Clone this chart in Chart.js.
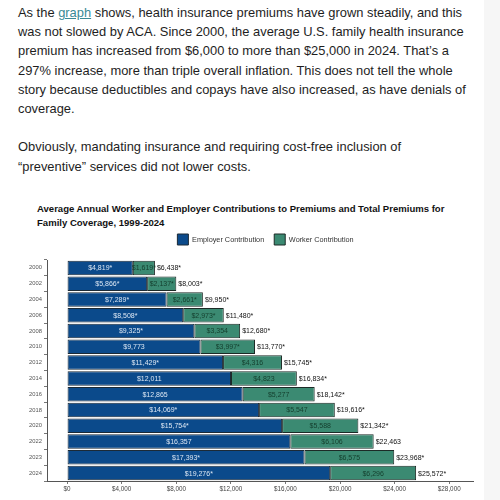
<!DOCTYPE html>
<html>
<head>
<meta charset="utf-8">
<script src="https://cdn.jsdelivr.net/npm/chart.js@4.4.1/dist/chart.umd.min.js"></script>
<style>
  html, body { margin: 0; padding: 0; width: 500px; height: 500px; overflow: hidden; background: #fff; }
  .edge { position: absolute; left: 484px; top: 0; width: 16px; height: 500px; background: #f6f6f6; }
  .text { position: absolute; left: 18px; top: 3px; font-family: "Liberation Sans", Arial, sans-serif; font-size: 12.9px; line-height: 19.2px; color: #1e1e1e; white-space: nowrap; }
  .text p { margin: 0 0 19.2px 0; }
  .text a { color: #3a8a96; text-decoration: underline; }
  .title { position: absolute; left: 37px; top: 202px; font-family: "Liberation Sans", Arial, sans-serif; font-weight: bold; font-size: 9.55px; line-height: 13.5px; color: #111; white-space: nowrap; }
  .wrap { position: absolute; left: 0; top: 229px; width: 500px; height: 271px; }
</style>
</head>
<body>
<div class="edge"></div>
<div class="text">
  <p>As the <a href="#">graph</a> shows, health insurance premiums have grown steadily, and this<br>
  was not slowed by ACA. Since 2000, the average U.S. family health insurance<br>
  premium has increased from $6,000 to more than $25,000 in 2024. That’s a<br>
  297% increase, more than triple overall inflation. This does not tell the whole<br>
  story because deductibles and copays have also increased, as have denials of<br>
  coverage.</p>
  <p>Obviously, mandating insurance and requiring cost-free inclusion of<br>
  “preventive” services did not lower costs.</p>
</div>
<div class="title">Average Annual Worker and Employer Contributions to Premiums and Total Premiums for<br>Family Coverage, 1999-2024</div>
<div class="wrap"><canvas id="premiumChart"></canvas></div>
<script>
// Data
const years = ['2000', '2002', '2004', '2006', '2008', '2010', '2012', '2014', '2016', '2018', '2020', '2022', '2023', '2024'];
const employer = [4819, 5866, 7289, 8508, 9325, 9773, 11429, 12011, 12865, 14069, 15754, 16357, 17393, 19276];
const worker = [1619, 2137, 2661, 2973, 3354, 3997, 4316, 4823, 5277, 5547, 5588, 6106, 6575, 6296];
const totals = [6438, 8003, 9950, 11480, 12680, 13770, 15745, 16834, 18142, 19616, 21342, 22463, 23968, 25572];
// 1 = value marked with an asterisk
const employerStar = [1, 1, 1, 1, 1, 0, 1, 0, 0, 1, 1, 0, 1, 1];
const workerStar = [1, 1, 1, 1, 0, 1, 0, 0, 0, 0, 0, 0, 0, 0];
const totalStar = [1, 1, 1, 1, 1, 1, 1, 1, 1, 1, 1, 0, 1, 1];
const xTicks = [0, 4000, 8000, 12000, 16000, 20000, 24000, 28000];

const FONT = '"Liberation Sans", Arial, sans-serif';
const money = v => '$' + v.toLocaleString('en-US');

// labels inside each bar plus the total at the end
const barLabels = {
    id: 'barLabels',
    afterLayout(chart) {
        // legend sits a bit right of the plot centre and close under the title
        const lg = chart.legend;
        lg.left += 29; lg.right += 29;
        lg.top -= 5; lg.bottom -= 5;
    },
    afterDatasetsDraw(chart) {
        const ctx = chart.ctx;
        const stars = [employerStar, workerStar];
        const colors = ['#dbe6f3', '#15402f'];
        ctx.save();
        ctx.font = '7px ' + FONT;
        ctx.textBaseline = 'middle';
        chart.data.datasets.forEach((ds, i) => {
            chart.getDatasetMeta(i).data.forEach((bar, j) => {
                ctx.fillStyle = colors[i];
                ctx.textAlign = 'center';
                ctx.fillText(money(ds.data[j]) + (stars[i][j] ? '*' : ''), (bar.x + bar.base) / 2, bar.y + 0.5);
            });
        });
        const last = chart.getDatasetMeta(1).data;
        ctx.fillStyle = '#111';
        ctx.textAlign = 'left';
        last.forEach((bar, j) => {
            ctx.fillText(money(totals[j]) + (totalStar[j] ? '*' : ''), bar.x + 2, bar.y + 0.5);
        });
        ctx.restore();
    }
};

new Chart(document.getElementById('premiumChart'), {
    type: 'bar',
    data: {
        labels: years,
        datasets: [{
            label: 'Employer Contribution',
            data: employer,
            backgroundColor: '#0b4a8b',
            borderColor: '#1c2a36',
            borderWidth: 1,
            borderSkipped: false,
            barPercentage: 0.92,
            categoryPercentage: 1
        }, {
            label: 'Worker Contribution',
            data: worker,
            backgroundColor: '#3b8a72',
            borderColor: '#1c2a26',
            borderWidth: 1,
            borderSkipped: false,
            barPercentage: 0.92,
            categoryPercentage: 1
        }]
    },
    options: {
        indexAxis: 'y',
        responsive: true,
        maintainAspectRatio: false,
        animation: false,
        layout: { padding: { left: 0, right: 27, top: 0, bottom: 0 } },
        plugins: {
            legend: {
                labels: {
                    boxWidth: 11,
                    boxHeight: 11,
                    padding: 10,
                    color: '#333',
                    font: { family: FONT, size: 7.3 }
                }
            },
            tooltip: { enabled: false }
        },
        scales: {
            x: {
                stacked: true,
                min: -1470,
                max: 29740,
                afterBuildTicks: scale => { scale.ticks = xTicks.map(v => ({ value: v })); },
                afterFit: scale => { scale.height = 19; },
                border: { color: '#555', width: 1 },
                grid: { drawOnChartArea: false, tickLength: 3, color: '#777' },
                ticks: {
                    padding: 1,
                    color: '#444',
                    font: { family: FONT, size: 6.3 },
                    maxRotation: 0,
                    callback: v => money(v)
                }
            },
            y: {
                stacked: true,
                afterFit: scale => { scale.width = 47; },
                border: { color: '#555', width: 1 },
                grid: { drawOnChartArea: false, tickLength: 3, color: '#777' },
                ticks: {
                    padding: 2,
                    color: '#555',
                    font: { family: FONT, size: 5.8 }
                }
            }
        }
    },
    plugins: [barLabels]
});
</script>
</body>
</html>
